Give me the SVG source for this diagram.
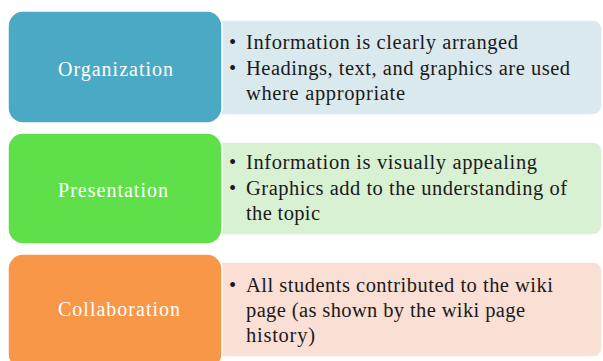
<svg xmlns="http://www.w3.org/2000/svg" width="603" height="361" viewBox="0 0 603 361">
<style>
.lbl{font-family:"Liberation Serif","Times New Roman",serif;font-size:20px;fill:#ffffff;text-anchor:middle}
.txt{font-family:"Liberation Serif","Times New Roman",serif;font-size:20.5px;fill:#1a1a1a}
.card{stroke:#ffffff;stroke-width:1.5}
</style>
<rect width="603" height="361" fill="#ffffff"/>
<g id="connectors"></g>
<g id="organization">
<rect class="card" x="214" y="20" width="388" height="95" rx="9" fill="#dae9ee"/>
<rect class="card" x="8" y="11" width="214" height="112" rx="15" fill="#4aa9c4"/>
<text class="lbl" x="115.5" y="76" textLength="115" lengthAdjust="spacing">Organization</text>
<text class="txt" x="229" y="49">•</text>
<text class="txt" x="246" y="49" textLength="272" lengthAdjust="spacing">Information is clearly arranged</text>
<text class="txt" x="229" y="75">•</text>
<text class="txt" x="246" y="75" textLength="324" lengthAdjust="spacing">Headings, text, and graphics are used</text>
<text class="txt" x="246" y="100" textLength="159" lengthAdjust="spacing">where appropriate</text>
</g>
<g id="presentation">
<rect class="card" x="214" y="142" width="388" height="93" rx="9" fill="#d8f1d3"/>
<rect class="card" x="8" y="133" width="214" height="111" rx="15" fill="#5fe04b"/>
<text class="lbl" x="113" y="197" textLength="110" lengthAdjust="spacing">Presentation</text>
<text class="txt" x="229" y="169">•</text>
<text class="txt" x="246" y="169" textLength="291" lengthAdjust="spacing">Information is visually appealing</text>
<text class="txt" x="229" y="195">•</text>
<text class="txt" x="246" y="195" textLength="321" lengthAdjust="spacing">Graphics add to the understanding of</text>
<text class="txt" x="246" y="220" textLength="74" lengthAdjust="spacing">the topic</text>
</g>
<g id="collaboration">
<rect class="card" x="214" y="262" width="388" height="95" rx="9" fill="#fadfd5"/>
<rect class="card" x="8" y="254" width="214" height="115" rx="15" fill="#f79747"/>
<text class="lbl" x="119" y="316" textLength="122" lengthAdjust="spacing">Collaboration</text>
<text class="txt" x="229" y="292">•</text>
<text class="txt" x="246" y="292" textLength="307" lengthAdjust="spacing">All students contributed to the wiki</text>
<text class="txt" x="246" y="317" textLength="279" lengthAdjust="spacing">page (as shown by the wiki page</text>
<text class="txt" x="246" y="342" textLength="69" lengthAdjust="spacing">history)</text>
</g>
</svg>
